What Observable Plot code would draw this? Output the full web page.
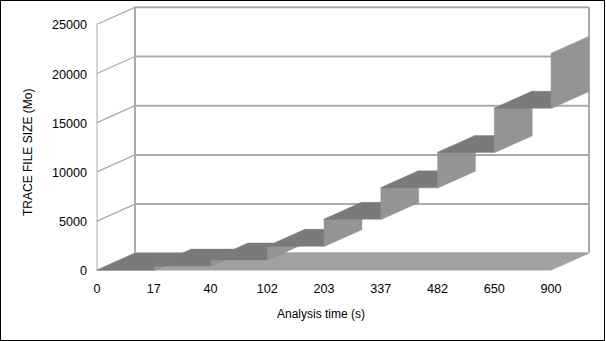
<!DOCTYPE html>
<html>
<head>
<meta charset="utf-8">
<script src="https://cdn.jsdelivr.net/npm/d3@7"></script>
<script src="https://cdn.jsdelivr.net/npm/@observablehq/plot@0.6"></script>
<style>
  html, body { margin: 0; padding: 0; background: #fff; }
  #chart { position: relative; width: 606px; height: 341px; overflow: hidden; }
  #chart svg { display: block; }
  #border { position: absolute; left: 0; top: 0; width: 605px; height: 341px; box-sizing: border-box; border: 1px solid #000; pointer-events: none; }
</style>
</head>
<body>
<div id="chart"><div id="border"></div></div>
<script>
const timeLabels = ["0", "17", "40", "102", "203", "337", "482", "650", "900"];
const traceSizes = [0, 430, 1050, 2440, 5180, 8380, 11980, 16470, 22060];
const yTicks = [0, 5000, 10000, 15000, 20000, 25000];
const xTitle = "Analysis time (s)";
const yTitle = "TRACE FILE SIZE (Mo)";

// oblique depth of the 3D box, in data units
const depthX = 0.669;
const depthY = 1725;
const lastIndex = timeLabels.length - 1;
const indices = timeLabels.map((_, i) => i);

const slab = (x1, x2, y1, y2) => [
  {x: x1, y: y1},
  {x: x2, y: y2},
  {x: x2 + depthX, y: y2 + depthY},
  {x: x1 + depthX, y: y1 + depthY}
];
const surface = (data, fill) => Plot.line(data, {x: "x", y: "y", fill, stroke: fill, strokeWidth: 0.4, curve: "linear-closed"});

// painter's order: left to right, each riser then the tread on top of it
const steps = indices.flatMap(i => [
  ...(i > 0 ? [surface(slab(i, i, traceSizes[i - 1], traceSizes[i]), "#949494")] : []),
  ...(i < lastIndex ? [surface(slab(i, i + 1, traceSizes[i], traceSizes[i]), "#7a7a7a")] : [])
]);

const wall = "#aaaaaa";
const plot = Plot.plot({
  width: 606,
  height: 341,
  marginLeft: 96.5,
  marginRight: 17.5,
  marginTop: 6.8,
  marginBottom: 71.2,
  style: {fontFamily: "'Liberation Sans', Arial, sans-serif", fontSize: "12.6px", color: "#000", background: "#fff"},
  x: {type: "linear", domain: [0, lastIndex + depthX]},
  y: {type: "linear", domain: [0, 25000 + depthY]},
  marks: [
    // back wall
    Plot.ruleY(yTicks, {x1: depthX, x2: lastIndex + depthX, y: d => d + depthY, stroke: wall, strokeWidth: 2}),
    // side wall
    Plot.link(yTicks, {x1: 0, x2: depthX, y1: d => d, y2: d => d + depthY, stroke: wall, strokeWidth: 1.3}),
    Plot.ruleX([0], {y1: 0, y2: 25000, stroke: wall, strokeWidth: 1}),
    Plot.ruleX([depthX, lastIndex + depthX], {y1: depthY, y2: 25000 + depthY, stroke: wall, strokeWidth: 2}),
    // 3D step area
    surface(slab(0, lastIndex, 0, 0), "#a1a1a1"),
    ...steps,
    Plot.axisY({ticks: yTicks, tickSize: 0, tickPadding: 10, tickFormat: d => String(d), label: null, dy: 1}),
    Plot.axisX({ticks: indices, tickSize: 0, tickPadding: 14, tickFormat: i => timeLabels[i], label: null}),
    Plot.text([xTitle], {frameAnchor: "bottom", dx: -22, dy: 48, fontSize: 12, fill: "#000"}),
    Plot.text([yTitle], {frameAnchor: "left", textAnchor: "middle", dx: -68.5, dy: 13.5, rotate: -90, fontSize: 12, fill: "#000"})
  ]
});
document.getElementById("chart").prepend(plot);
</script>
</body>
</html>
